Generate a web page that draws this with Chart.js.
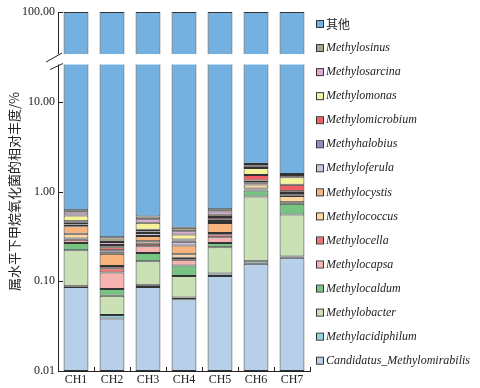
<!DOCTYPE html>
<html>
<head>
<meta charset="utf-8">
<script src="https://cdn.jsdelivr.net/npm/chart.js@4/dist/chart.umd.min.js"></script>
<style>
  body { margin: 0; background: #fff; }
  #wrap { width: 480px; height: 388px; }
</style>
</head>
<body>
<div id="wrap"><canvas id="chart"></canvas></div>
<script>
// Data (relative abundance, %)
const categories = ['CH1', 'CH2', 'CH3', 'CH4', 'CH5', 'CH6', 'CH7'];
const yTickValues = [0.01, 0.1, 1, 10, 100];
const yTickLabels = ['0.01', '0.10', '1.00', '10.00', '100.00'];

const candidatus = [0.0865, 0.0385, 0.0865, 0.063, 0.1146, 0.157, 0.183];
const acidiphilum = [0.0015, 0.0035, 0.005, 0.003, 0.0074, 0.010, 0.006];
const bacter = [0.133, 0.027, 0.076, 0.0486, 0.118, 0.713, 0.366];
const caldum = [0.046, 0.013, 0.039, 0.035, 0.027, 0.146, 0.175];
const capsa = [0.023, 0.043, 0.039, 0.024, 0.043, 0.030, 0.015];
const cella = [0.010, 0.015, 0.016, 0.009, 0.023, 0.024, 0.015];
const coccus = [0.038, 0.008, 0.018, 0.017, 0.012, 0.116, 0.130];
const cystis = [0.073, 0.055, 0.040, 0.051, 0.100, 0.024, 0.020];
const ferula = [0.019, 0.012, 0.026, 0.025, 0.025, 0.050, 0.050];
const halobius = [0.018, 0.006, 0.014, 0.009, 0.020, 0.055, 0.047];
const microbium = [0.019, 0.019, 0.015, 0.007, 0.030, 0.205, 0.180];
const monas = [0.073, 0.013, 0.073, 0.041, 0.030, 0.300, 0.253];
const sarcina = [0.044, 0.020, 0.042, 0.027, 0.050, 0.110, 0.090];
const sinus = [0.036, 0.037, 0.037, 0.035, 0.036, 0.090, 0.040];
const other = [99.38, 99.69, 99.47, 99.60, 99.36, 97.97, 98.43];

// axis break (values between which the bars are cut)
const breakLow = 26;
const breakHigh = 34;

const series = [
  { label: 'Candidatus_Methylomirabilis', data: candidatus, color: '#b7cfe9' },
  { label: 'Methylacidiphilum', data: acidiphilum, color: '#8fd3df' },
  { label: 'Methylobacter', data: bacter, color: '#c9e1b5' },
  { label: 'Methylocaldum', data: caldum, color: '#76c382' },
  { label: 'Methylocapsa', data: capsa, color: '#f7b3b0' },
  { label: 'Methylocella', data: cella, color: '#ef7374' },
  { label: 'Methylococcus', data: coccus, color: '#fdd6a0' },
  { label: 'Methylocystis', data: cystis, color: '#f8b47c' },
  { label: 'Methyloferula', data: ferula, color: '#cbc3df' },
  { label: 'Methyhalobius', data: halobius, color: '#9d85c2' },
  { label: 'Methylomicrobium', data: microbium, color: '#ee5e62' },
  { label: 'Methylomonas', data: monas, color: '#f5f29b' },
  { label: 'Methylosarcina', data: sarcina, color: '#e1a9d6' },
  { label: 'Methylosinus', data: sinus, color: '#a9a58d' },
  { label: '其他', data: other, color: '#74b1e0' }
];

const serif = '"Liberation Serif", "Times New Roman", serif';
const cjk = '"Noto Sans CJK SC", sans-serif';

// white gap, break marks, inner ticks, y title and legend
const extras = {
  id: 'extras',
  afterDraw(chart) {
    const ctx = chart.ctx;
    const area = chart.chartArea;
    const y = chart.scales.y;
    const x = chart.scales.x;
    ctx.save();

    // inner ticks on y axis
    ctx.strokeStyle = '#222';
    ctx.lineWidth = 1;
    yTickValues.forEach(v => {
      const py = Math.round(y.getPixelForValue(v)) + 0.5;
      ctx.beginPath();
      ctx.moveTo(area.left, py);
      ctx.lineTo(area.left + 5, py);
      ctx.stroke();
    });
    // small ticks between categories on x axis
    const step = (area.right - area.left) / categories.length;
    for (let i = 1; i <= categories.length; i++) {
      const px = Math.round(x.getPixelForValue(i - 1) + step / 2) + 0.5;
      ctx.beginPath();
      ctx.moveTo(px, area.bottom);
      ctx.lineTo(px, area.bottom - 4);
      ctx.stroke();
    }

    // the break
    const yTop = y.getPixelForValue(breakHigh);
    const yBot = y.getPixelForValue(breakLow);
    ctx.fillStyle = '#fff';
    ctx.fillRect(area.left - 1, yTop, area.right - area.left + 2, yBot - yTop);
    ctx.strokeStyle = '#222';
    ctx.beginPath();
    ctx.moveTo(area.left - 12, yTop + 8);
    ctx.lineTo(area.left + 4, yTop - 1);
    ctx.moveTo(area.left - 8, yBot + 5);
    ctx.lineTo(area.left + 5, yBot - 1);
    ctx.stroke();

    // y title
    ctx.translate(14, (area.top + area.bottom) / 2);
    ctx.rotate(-Math.PI / 2);
    ctx.fillStyle = '#222';
    ctx.font = '13px ' + cjk;
    ctx.textAlign = 'center';
    ctx.textBaseline = 'middle';
    ctx.fillText('属水平下甲烷氧化菌的相对丰度/%', 0, 0);
    ctx.setTransform(1, 0, 0, 1, 0, 0);

    // legend, top item is the last dataset
    const ds = chart.data.datasets.slice().reverse();
    ds.forEach((d, i) => {
      const cy = 24 + i * 24.05;
      ctx.fillStyle = d.backgroundColor;
      ctx.fillRect(317, cy - 3, 6, 6);
      ctx.strokeStyle = '#333';
      ctx.strokeRect(316.5, cy - 3.5, 7, 7);
      ctx.fillStyle = '#222';
      ctx.textAlign = 'left';
      ctx.textBaseline = 'middle';
      ctx.font = d.label === '其他' ? '12px ' + cjk : 'italic 12px ' + serif;
      ctx.fillText(d.label, 326, cy);
    });
    ctx.restore();
  }
};

new Chart(document.getElementById('chart'), {
  type: 'bar',
  data: {
    labels: categories,
    datasets: series.map(s => ({
      label: s.label,
      data: s.data,
      backgroundColor: s.color,
      borderColor: '#333',
      borderWidth: 1,
      borderSkipped: false,
      barPercentage: 0.69,
      categoryPercentage: 1
    }))
  },
  options: {
    responsive: true,
    maintainAspectRatio: false,
    animation: false,
    layout: { padding: { top: 12, right: 170, left: 0, bottom: 0 } },
    plugins: { legend: { display: false }, tooltip: { enabled: false } },
    scales: {
      x: {
        stacked: true,
        grid: { display: true, drawOnChartArea: false, drawTicks: false },
        border: { display: true, color: '#222', width: 1 },
        ticks: { color: '#222', font: { family: serif, size: 12 }, padding: 2 },
        afterFit(scale) { scale.height = 17; }
      },
      y: {
        type: 'logarithmic',
        stacked: true,
        min: 0.01,
        max: 100,
        grid: { display: true, drawOnChartArea: false, drawTicks: false },
        border: { display: true, color: '#222', width: 1 },
        afterBuildTicks(scale) {
          scale.ticks = yTickValues.map(v => ({ value: v }));
        },
        ticks: {
          color: '#222',
          padding: 3,
          font: { family: serif, size: 12 },
          callback(value) {
            const i = yTickValues.indexOf(value);
            return i >= 0 ? yTickLabels[i] : '';
          }
        },
        afterFit(scale) { scale.width = 58; }
      }
    }
  },
  plugins: [extras]
});
</script>
</body>
</html>
